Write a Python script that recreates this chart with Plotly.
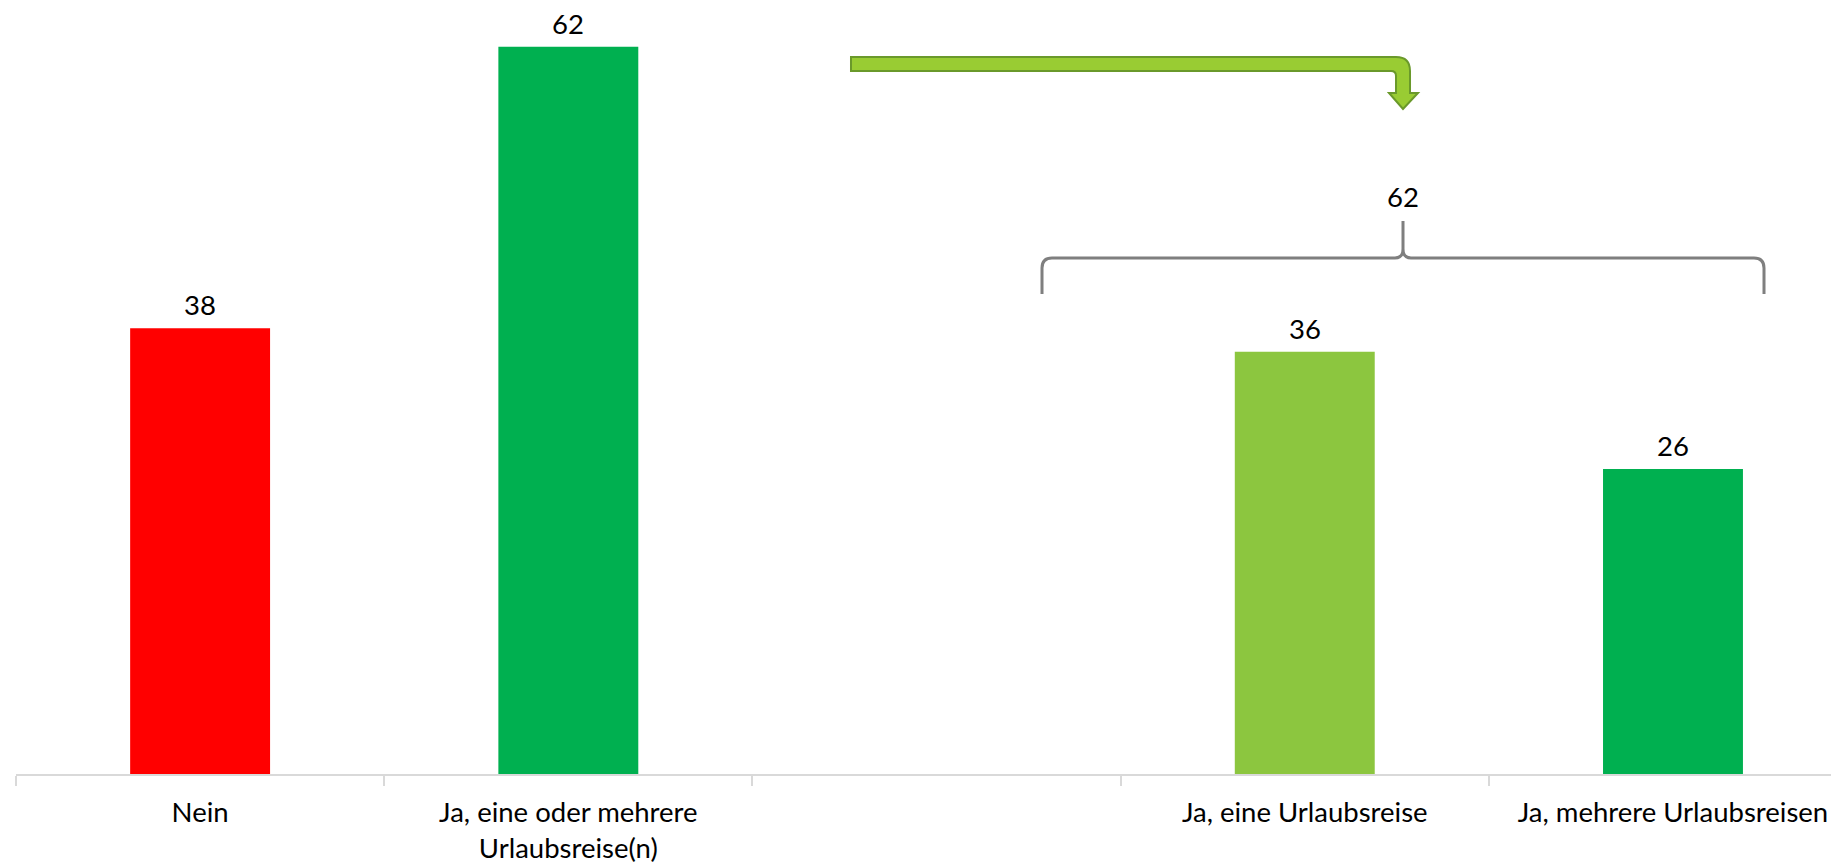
import plotly.graph_objects as go

# ---- data ----
categories = ["Nein", "Ja, eine oder mehrere<br>Urlaubsreise(n)", " ", "Ja, eine Urlaubsreise", "Ja, mehrere Urlaubsreisen"]
values = [38, 62, None, 36, 26]
bar_colors = ["#FF0000", "#00B050", "#FFFFFF", "#8CC63F", "#00B050"]
brace_total_label = "62"

FONT = "Lato"
FS = 27.5
PAGE = 8  # default body margin of the html page
W, H = 1839 - PAGE, 864 - PAGE
M_L, M_R, M_T, M_B = 8, 4, 0, 90
Y_MAX = 65.3
X_RANGE = [-0.5, 4.44]

plot_w = W - M_L - M_R
plot_h = H - M_T - M_B


def px(x):
    return (x - PAGE - M_L) / plot_w


def py(y):
    return (M_T + plot_h - (y - PAGE)) / plot_h


def path(cmds):
    out = []
    for c in cmds:
        op = c[0]
        pts = c[1:]
        s = op
        for i in range(0, len(pts), 2):
            s += " %.5f,%.5f" % (px(pts[i]), py(pts[i + 1]))
        out.append(s)
    return " ".join(out)


fig = go.Figure()
fig.add_trace(go.Bar(
    x=categories, y=values,
    marker=dict(color=bar_colors, line=dict(width=0)),
    hoverinfo="skip",
))

# value labels
for c, v in zip(categories, values):
    if v is None:
        continue
    fig.add_annotation(x=c, y=v, xref="x", yref="y", text=str(v), showarrow=False,
                       yanchor="bottom", yshift=6, borderpad=0,
                       font=dict(family=FONT, size=FS, color="#000000"))

# bent arrow
arrow = path([
    ("M", 851, 57), ("L", 1396, 57), ("Q", 1410, 57, 1410, 71), ("L", 1410, 93), ("L", 1418, 93),
    ("L", 1403, 109), ("L", 1389, 93), ("L", 1396, 93), ("L", 1396, 76), ("Q", 1396, 71, 1391, 71),
    ("L", 851, 71),
]) + " Z"
fig.add_shape(type="path", path=arrow, xref="paper", yref="paper",
              fillcolor="#99CC33", line=dict(color="#6A992B", width=2), layer="above")

# brace
brace = path([
    ("M", 1042, 294), ("L", 1042, 268), ("Q", 1042, 258, 1052, 258), ("L", 1395, 258),
    ("Q", 1403, 258, 1403, 249), ("L", 1403, 221), ("M", 1403, 249), ("Q", 1403, 258, 1411, 258),
    ("L", 1754, 258), ("Q", 1764, 258, 1764, 268), ("L", 1764, 294),
])
fig.add_shape(type="path", path=brace, xref="paper", yref="paper",
              line=dict(color="#7F7F7F", width=3), layer="above")
fig.add_annotation(x=px(1403), y=py(197), xref="paper", yref="paper", text=brace_total_label,
                   showarrow=False, yanchor="middle", xanchor="center",
                   font=dict(family=FONT, size=FS, color="#000000"))

fig.update_layout(
    width=W, height=H,
    margin=dict(l=M_L, r=M_R, t=M_T, b=M_B, pad=0),
    paper_bgcolor="#FFFFFF", plot_bgcolor="#FFFFFF",
    bargap=0.62,
    showlegend=False,
    font=dict(family=FONT, size=FS, color="#000000"),
    xaxis=dict(
        type="category", range=X_RANGE, tickson="boundaries",
        showline=True, linecolor="#D9D9D9", linewidth=2,
        ticks="outside", ticklen=10, tickcolor="#D9D9D9", tickwidth=2,
        showgrid=False, zeroline=False, ticklabelstandoff=13,
        tickfont=dict(family=FONT, size=FS, color="#000000"),
    ),
    yaxis=dict(range=[0, Y_MAX], visible=False, showgrid=False, zeroline=False),
)

fig.write_html("out.html")
